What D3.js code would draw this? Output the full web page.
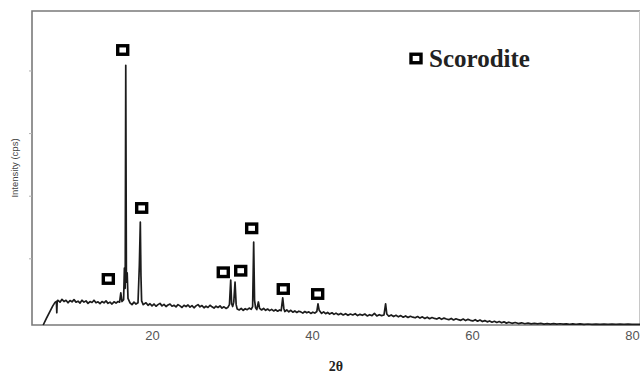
<!DOCTYPE html>
<html>
<head>
<meta charset="utf-8">
<script src="https://cdn.jsdelivr.net/npm/d3@7"></script>
<style>
  body { margin: 0; background: #fff; }
  svg { display: block; }
</style>
</head>
<body>
<div id="chart"></div>
<script>
// XRD scan, [2theta, cps]
const scan = [
  [6.4,-65],[6.8,40],[7.2,140],[7.6,240],[7.9,300],[8.05,310],[8.1,130],[8.15,320],
  [8.25,330],[8.5,300],[8.75,345],[9.0,310],[9.25,330],[9.5,290],[9.75,325],[10.0,305],
  [10.25,340],[10.5,300],[10.75,315],[11.0,285],[11.25,330],[11.5,300],[11.75,320],[12.0,280],
  [12.25,310],[12.5,295],[12.75,330],[13.0,290],[13.25,305],[13.5,275],[13.75,310],[14.0,290],
  [14.25,320],[14.5,280],[14.75,300],[15.0,270],[15.25,305],[15.5,285],[15.75,310],[15.95,300],
  [16.1,447],[16.25,310],[16.45,340],[16.55,845],[16.65,520],[16.72,4083],[16.8,620],[16.9,766],
  [17.0,360],[17.25,290],[17.5,260],[17.75,300],[18.0,270],[18.25,290],[18.42,893],[18.54,1579],
  [18.62,720],[18.7,320],[18.9,260],[19.25,290],[19.5,250],[19.75,275],[20.0,240],[20.25,270],
  [20.5,235],[20.75,260],[21.0,280],[21.25,240],[21.5,265],[21.75,230],[22.0,255],[22.25,270],
  [22.5,235],[22.75,250],[23.0,225],[23.25,260],[23.5,240],[23.75,215],[24.0,250],[24.25,230],
  [24.5,255],[24.75,220],[25.0,245],[25.25,210],[25.5,240],[25.75,260],[26.0,225],[26.25,245],
  [26.5,210],[26.75,235],[27.0,215],[27.25,250],[27.5,225],[27.75,205],[28.0,235],[28.25,215],
  [28.5,240],[28.75,205],[29.0,225],[29.25,200],[29.5,220],[29.68,260],[29.84,654],[29.95,280],
  [30.08,230],[30.22,300],[30.38,622],[30.52,260],[30.65,190],[30.9,175],[31.15,200],[31.4,170],
  [31.65,195],[31.9,180],[32.15,205],[32.4,185],[32.58,230],[32.71,1260],[32.82,330],[32.95,210],
  [33.1,180],[33.3,303],[33.45,200],[33.7,175],[33.95,200],[34.2,170],[34.45,190],[34.7,165],
  [34.95,185],[35.2,160],[35.45,180],[35.7,155],[35.95,175],[36.15,165],[36.34,367],[36.48,200],
  [36.6,150],[36.85,175],[37.1,145],[37.35,170],[37.6,140],[37.85,160],[38.1,135],[38.35,155],
  [38.6,145],[38.85,125],[39.1,150],[39.35,130],[39.6,145],[39.85,120],[40.1,140],[40.35,125],
  [40.6,150],[40.75,271],[40.9,170],[41.2,120],[41.45,145],[41.7,115],[41.95,135],[42.2,110],
  [42.5,130],[42.75,105],[43.0,125],[43.3,100],[43.6,120],[43.9,95],[44.2,115],[44.5,90],
  [44.8,110],[45.1,95],[45.4,115],[45.7,85],[46.0,105],[46.3,90],[46.6,110],[46.9,80],
  [47.2,100],[47.5,85],[47.8,120],[48.1,80],[48.4,100],[48.7,85],[49.0,95],[49.2,271],
  [49.35,110],[49.6,75],[49.9,95],[50.2,70],[50.5,90],[50.8,65],[51.1,85],[51.4,60],
  [51.7,80],[52.0,55],[52.3,75],[52.6,60],[52.9,50],[53.2,70],[53.5,45],[53.8,65],
  [54.1,40],[54.4,60],[54.7,35],[55.0,55],[55.3,40],[55.6,30],[55.9,50],[56.2,25],
  [56.5,45],[56.8,30],[57.1,20],[57.4,40],[57.7,15],[58.0,35],[58.3,20],[58.6,10],
  [58.9,30],[59.2,5],[59.5,25],[59.8,10],[60.1,0],[60.4,20],[60.7,-5],[61.0,15],
  [61.3,-10],[61.6,5],[61.9,-15],[62.2,0],[62.5,-20],[62.8,-5],[63.1,-25],[63.4,-10],
  [63.7,-30],[64.0,-15],[64.3,-35],[64.6,-20],[65.0,-38],[65.4,-25],[65.8,-42],[66.2,-30],
  [66.6,-45],[67.0,-35],[67.4,-48],[67.8,-38],[68.2,-48],[68.6,-40],[69.0,-50],[69.4,-42],
  [69.8,-50],[70.2,-44],[70.6,-52],[71.0,-45],[71.4,-52],[71.8,-46],[72.2,-53],[72.6,-47],
  [73.0,-53],[73.5,-48],[74.0,-54],[74.5,-49],[75.0,-54],[75.5,-50],[76.0,-55],[76.5,-50],
  [77.0,-55],[77.5,-51],[78.0,-55],[78.5,-52],[79.0,-56],[79.5,-52],[80.0,-56],[80.5,-53],[81.0,-56]
];

// scorodite markers (open squares) above the peaks
const markerTheta = [16.34, 18.71, 14.54, 28.91, 31.09, 32.46, 36.41, 40.71];
const markerCps = [4327, 1804, 670, 777, 802, 1479, 510, 430];

const xTicks = [20, 40, 60, 80];
const yTicks = [1000, 2000, 3000, 4000];
const legendLabel = "Scorodite";

const W = 641, H = 374;
const margin = { top: 11, right: 1, bottom: 49, left: 32 };
const plotLeft = margin.left, plotRight = W - margin.right;
const plotTop = margin.top, plotBottom = H - margin.bottom;

const svg = d3.select("#chart").append("svg")
  .attr("width", W)
  .attr("height", H);

const x = d3.scaleLinear().domain([5, 81]).range([plotLeft, plotRight]);
const y = d3.scaleLinear().domain([-65, 4950]).range([plotBottom, plotTop]);

// frame: left, top, bottom darker, right side faint
svg.append("path")
  .attr("d", `M${plotRight},${plotTop}H${plotLeft}V${plotBottom}H${plotRight}`)
  .attr("fill", "none")
  .attr("stroke", "#7a7a7a")
  .attr("stroke-width", 1.6);
svg.append("line")
  .attr("x1", plotRight - 0.5).attr("x2", plotRight - 0.5)
  .attr("y1", plotTop).attr("y2", plotBottom)
  .attr("stroke", "#c8c8c8")
  .attr("stroke-width", 1);

// faint y ticks, no labels
const yAxis = svg.append("g")
  .attr("transform", `translate(${plotLeft},0)`)
  .call(d3.axisLeft(y).tickValues(yTicks).tickSize(3).tickFormat(""));
yAxis.select(".domain").remove();
yAxis.selectAll("line").attr("stroke", "#b0b0b0");

// x tick labels
const xAxis = svg.append("g")
  .attr("transform", `translate(0,${plotBottom})`)
  .call(d3.axisBottom(x).tickValues(xTicks).tickSize(0).tickPadding(6));
xAxis.select(".domain").remove();
xAxis.selectAll("text")
  .style("font-family", "Liberation Sans, Arial, sans-serif")
  .style("font-size", "13px")
  .attr("fill", "#555");

// scan line
const line = d3.line().x(d => x(d[0])).y(d => y(d[1]));
svg.append("path")
  .datum(scan)
  .attr("d", line)
  .attr("fill", "none")
  .attr("stroke", "#1c1c1c")
  .attr("stroke-width", 1.7)
  .attr("stroke-linejoin", "round");

// markers
const mw = 10, mh = 8.5;
svg.selectAll(".marker")
  .data(markerTheta)
  .enter()
  .append("rect")
  .attr("class", "marker")
  .attr("x", d => x(d) - mw / 2)
  .attr("y", (d, i) => y(markerCps[i]) - mh / 2)
  .attr("width", mw)
  .attr("height", mh)
  .attr("fill", "#fff")
  .attr("stroke", "#000")
  .attr("stroke-width", 3.4);

// legend
const legend = svg.append("g").attr("transform", "translate(416,58.5)");
legend.append("rect")
  .attr("x", -mw / 2)
  .attr("y", -mh / 2)
  .attr("width", mw)
  .attr("height", mh)
  .attr("fill", "#fff")
  .attr("stroke", "#000")
  .attr("stroke-width", 3.4);
legend.append("text")
  .attr("x", 13)
  .attr("y", 8)
  .style("font-family", "Liberation Serif, Times New Roman, serif")
  .style("font-weight", "bold")
  .style("font-size", "25px")
  .attr("fill", "#222")
  .text(legendLabel);

// axis titles
svg.append("text")
  .attr("x", 336)
  .attr("y", 371)
  .attr("text-anchor", "middle")
  .style("font-family", "Liberation Serif, Times New Roman, serif")
  .style("font-weight", "bold")
  .style("font-size", "14px")
  .attr("fill", "#222")
  .text("2θ");

svg.append("text")
  .attr("transform", "translate(18,168) rotate(-90)")
  .attr("text-anchor", "middle")
  .style("font-family", "Liberation Sans, Arial, sans-serif")
  .style("font-size", "9.5px")
  .attr("fill", "#444")
  .text("Intensity (cps)");
</script>
</body>
</html>
